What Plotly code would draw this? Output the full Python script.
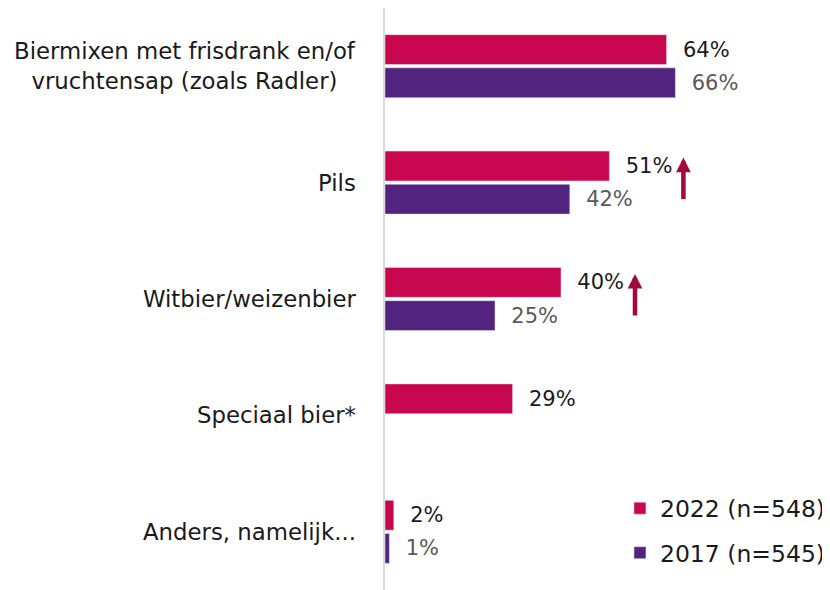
import plotly.graph_objects as go

categories = [
    "Biermixen met frisdrank en/of<br>vruchtensap (zoals Radler)",
    "Pils",
    "Witbier/weizenbier",
    "Speciaal bier*",
    "Anders, namelijk...",
]
values_2022 = [64, 51, 40, 29, 2]
values_2017 = [66, 42, 25, None, 1]
sig_up_2022 = [False, True, True, False, False]
series_names = ["2022 (n=548)", "2017 (n=545)"]

PINK = "#C8074F"
PURPLE = "#52237F"
FONT = "DejaVu Sans"

def labels(vals):
    return ["" if v is None else "\u00a0\u00a0%d%%" % v for v in vals]

fig = go.Figure()
fig.add_trace(go.Bar(
    y=categories, x=values_2022, orientation="h", name=series_names[0],
    marker=dict(color=PINK), text=labels(values_2022), textposition="outside",
    textfont=dict(family=FONT, size=21, color="#1A1A1A"), cliponaxis=False,
    legendgroup="a",
))
fig.add_trace(go.Bar(
    y=categories, x=values_2017, orientation="h", name=series_names[1],
    marker=dict(color=PURPLE), text=labels(values_2017), textposition="outside",
    textfont=dict(family=FONT, size=21, color="#595959"), cliponaxis=False,
    legendgroup="b",
))

annotations = []
for c in categories:
    annotations.append(dict(
        x=0, y=c, xref="x", yref="y", text=c, showarrow=False,
        xanchor="right", align="center", xshift=-27,
        font=dict(family=FONT, size=22.8, color="#1A1A1A"),
    ))
for c, v, s in zip(categories, values_2022, sig_up_2022):
    if s:
        annotations.append(dict(
            x=v, y=c, xref="x", yref="y", text="", showarrow=True,
            xshift=74, yshift=25, ax=0, ay=43,
            arrowcolor="#A3093F", arrowwidth=4.5, arrowhead=2, arrowsize=0.65,
        ))

# page body has an 8px margin; figure is sized/laid out to compensate
fig.update_layout(
    width=822, height=582,
    margin=dict(l=377, r=5, t=0, b=0, autoexpand=False),
    plot_bgcolor="white", paper_bgcolor="white",
    barmode="group", bargap=0.43, bargroupgap=0.1,
    font=dict(family=FONT, size=21, color="#1A1A1A"),
    showlegend=True,
    legend=dict(x=0.534, y=0.178, xanchor="left", yanchor="top",
                font=dict(family=FONT, size=23.5, color="#1A1A1A"),
                tracegroupgap=11, traceorder="grouped",
                bgcolor="rgba(0,0,0,0)"),
    annotations=annotations,
)
fig.update_xaxes(range=[0, 100], visible=False, showgrid=False, zeroline=False)
fig.update_yaxes(autorange="reversed", showticklabels=False, showgrid=False,
                 showline=True, linecolor="#D9D9D9", linewidth=1.5,
                 ticks="", zeroline=False)

fig.write_html("out.html")
